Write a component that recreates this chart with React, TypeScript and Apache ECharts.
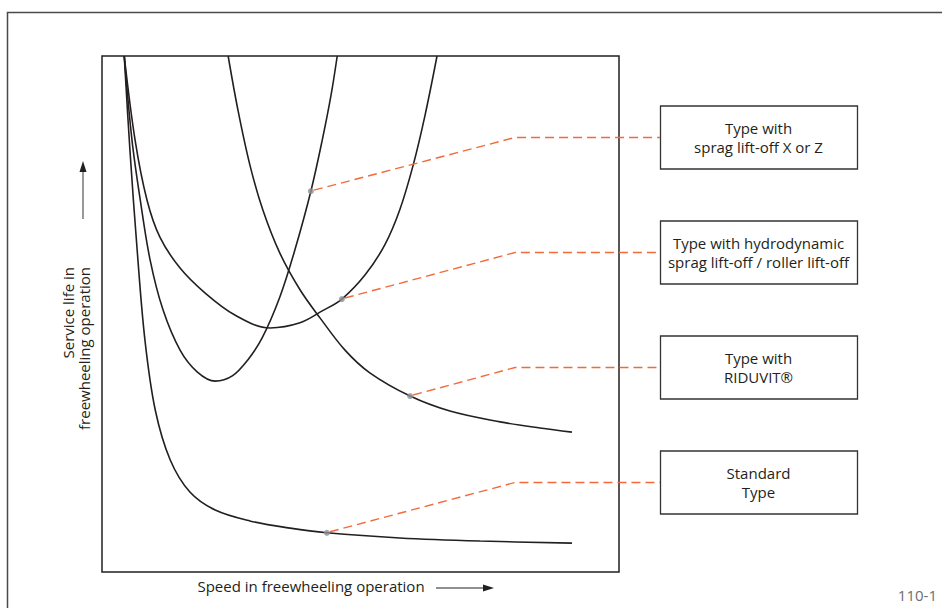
import React, { useEffect, useRef } from "react";
import * as echarts from "echarts";

// Curve values (relative units: speed 0-100 on x, service life 0-100 on y)
const standardX = [4.3, 5.4, 6.8, 8.3, 10.3, 13.2, 17.0, 21.9, 28.6, 36.4, 43.5, 57.6, 73.1, 90.9];
const standardY = [100, 81.8, 62.4, 45.0, 31.4, 21.7, 15.5, 12.0, 9.9, 8.5, 7.6, 6.6, 6.0, 5.6];

const spragXZX = [4.3, 5.8, 7.4, 9.3, 11.8, 15.1, 18.4, 21.9, 25.2, 28.2, 31.0, 34.4, 37.3, 40.4, 42.6, 44.3, 45.5];
const spragXZY = [100, 83.7, 72.1, 60.5, 50.8, 43.0, 38.8, 37.0, 38.0, 41.1, 45.4, 53.3, 62.4, 73.8, 83.7, 92.4, 100];

const hydroX = [4.3, 6.4, 8.7, 11.2, 15.1, 19.9, 25.7, 32.5, 38.3, 42.6, 46.4, 50.9, 54.7, 57.6, 60.2, 62.5, 64.8];
const hydroY = [100, 83.7, 72.1, 64.9, 58.9, 54.1, 49.8, 47.3, 48.3, 50.6, 52.9, 57.6, 63.4, 70.2, 78.9, 88.6, 100];

const riduvitX = [24.4, 26.3, 28.6, 31.1, 34.4, 38.3, 42.2, 47.0, 51.8, 59.6, 67.3, 77.0, 84.7, 90.9];
const riduvitY = [100, 89.5, 78.9, 70.2, 61.8, 54.7, 49.2, 43.0, 38.6, 34.1, 31.2, 29.1, 27.9, 27.1];

// Marker points on the curves (same order as labels)
const markerX = [40.4, 46.4, 59.6, 43.5];
const markerY = [73.8, 52.9, 34.1, 7.6];

const labels = [
  "Type with\nsprag lift-off X or Z",
  "Type with hydrodynamic\nsprag lift-off / roller lift-off",
  "Type with\nRIDUVIT®",
  "Standard\nType",
];

const xTitle = "Speed in freewheeling operation";
const yTitle = "Service life in\nfreewheeling operation";
const figId = "110-1";

const FONT = '"Open Sans", "Noto Sans", sans-serif';
const INK = "#231f20";
const ORANGE = "#f26a3b";

export default function App() {
  const ref = useRef<HTMLDivElement>(null);

  useEffect(() => {
    const el = ref.current;
    if (!el) return;
    const chart = echarts.init(el, null, { renderer: "svg" });

    const pair = (xs: number[], ys: number[]) => xs.map((x, i) => [x, ys[i]]);
    const curves = [
      pair(standardX, standardY),
      pair(spragXZX, spragXZY),
      pair(hydroX, hydroY),
      pair(riduvitX, riduvitY),
    ];

    chart.setOption({
      animation: false,
      grid: {
        left: 102,
        top: 56,
        width: 517,
        height: 516,
        show: true,
        borderColor: INK,
        borderWidth: 1.5,
        backgroundColor: "transparent",
      },
      xAxis: { type: "value", min: 0, max: 100, show: false },
      yAxis: { type: "value", min: 0, max: 100, show: false },
      series: [
        ...curves.map((d) => ({
          type: "line",
          data: d,
          smooth: 0.35,
          showSymbol: false,
          silent: true,
          clip: true,
          lineStyle: { color: INK, width: 1.6 },
        })),
        {
          type: "scatter",
          data: pair(markerX, markerY),
          symbolSize: 6,
          silent: true,
          z: 5,
          itemStyle: { color: "#8e8f94" },
        },
      ],
    });

    const boxX = 660;
    const boxW = 197;
    const boxH = 63;
    const boxCy = [137.5, 252.5, 367.5, 482.5];
    const elbowX = 515;

    const graphics: any[] = [];
    graphics.push({
      type: "rect",
      shape: { x: 7.5, y: 12.5, width: 960, height: 640 },
      style: { fill: "none", stroke: "#4a4a4a", lineWidth: 1.5 },
      silent: true,
    });

    markerX.forEach((mx, i) => {
      const p = chart.convertToPixel({ gridIndex: 0 }, [mx, markerY[i]]) as number[];
      graphics.push({
        type: "polyline",
        z: 4,
        shape: { points: [[p[0] + 3, p[1] - 1], [elbowX, boxCy[i]], [boxX, boxCy[i]]] },
        style: { stroke: ORANGE, lineWidth: 1.4, lineDash: [9, 5], fill: "none" },
        silent: true,
      });
      graphics.push({
        type: "rect",
        shape: { x: boxX + 0.5, y: boxCy[i] - boxH / 2, width: boxW, height: boxH },
        style: { fill: "#fff", stroke: "#333", lineWidth: 1.3 },
        silent: true,
      });
      graphics.push({
        type: "text",
        x: boxX + boxW / 2,
        y: boxCy[i],
        style: {
          text: labels[i],
          font: `15px ${FONT}`,
          lineHeight: 19,
          fill: INK,
          align: "center",
          verticalAlign: "middle",
        },
        silent: true,
      });
    });

    // x title and arrow
    graphics.push({
      type: "text",
      x: 311,
      y: 586,
      style: { text: xTitle, font: `15px ${FONT}`, fill: INK, align: "center", verticalAlign: "middle" },
      silent: true,
    });
    graphics.push({
      type: "line",
      shape: { x1: 436, y1: 588, x2: 485, y2: 588 },
      style: { stroke: INK, lineWidth: 1.1 },
      silent: true,
    });
    graphics.push({
      type: "polygon",
      shape: { points: [[494, 588], [483, 584.5], [483, 591.5]] },
      style: { fill: INK },
      silent: true,
    });

    // y title (lines end-aligned at the top) and arrow
    graphics.push({
      type: "text",
      x: 76,
      y: 267,
      rotation: Math.PI / 2,
      style: {
        text: yTitle,
        font: `15px ${FONT}`,
        lineHeight: 16,
        fill: INK,
        align: "right",
        verticalAlign: "middle",
      },
      silent: true,
    });
    graphics.push({
      type: "line",
      shape: { x1: 83, y1: 219, x2: 83, y2: 170 },
      style: { stroke: "#444", lineWidth: 1.1 },
      silent: true,
    });
    graphics.push({
      type: "polygon",
      shape: { points: [[83, 161], [79.5, 172], [86.5, 172]] },
      style: { fill: INK },
      silent: true,
    });

    graphics.push({
      type: "text",
      x: 937,
      y: 595,
      style: { text: figId, font: `15px ${FONT}`, fill: "#6d6e71", align: "right", verticalAlign: "middle" },
      silent: true,
    });

    chart.setOption({ graphic: graphics });

    return () => chart.dispose();
  }, []);

  return (
    <div
      ref={ref}
      style={{ position: "absolute", left: 0, top: 0, width: 942, height: 608, background: "#fff" }}
    />
  );
}
